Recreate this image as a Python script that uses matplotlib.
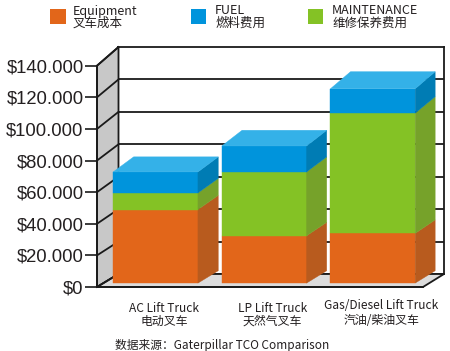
import numpy as np
import matplotlib
matplotlib.use("Agg")
import matplotlib.pyplot as plt
from matplotlib.patches import Polygon, Rectangle
from matplotlib.transforms import IdentityTransform

# ---------------- data ----------------
categories_en = ["AC Lift Truck", "LP Lift Truck", "Gas/Diesel Lift Truck"]
categories_zh = ["电动叉车", "天然气叉车", "汽油/柴油叉车"]
equipment = [46200, 29700, 31200]
maintenance = [10400, 40100, 75500]
fuel = [13200, 16300, 15300]
yticks = [0, 20000, 40000, 60000, 80000, 100000, 120000, 140000]
ytick_labels = ["$0", "$20.000", "$40.000", "$60.000", "$80.000",
                "$100.000", "$120.000", "$140.000"]
legend_en = ["Equipment", "FUEL", "MAINTENANCE"]
legend_zh = ["叉车成本", "燃料费用", "维修保养费用"]
source_text = "数据来源：Gaterpillar TCO Comparison"

# ---------------- style ----------------
C_OR, C_OR_S = "#E2661A", "#B85B1E"
C_GR, C_GR_S = "#84C225", "#76A22A"
C_BL, C_BL_S, C_BL_T = "#0094DC", "#007CB4", "#34B1E8"
legend_colors = [C_OR, C_BL, C_GR]
TXT = "#231F20"
CJK = ["Noto Sans CJK SC", "DejaVu Sans"]

W, H = 450, 351
fig = plt.figure(figsize=(W / 100, H / 100), dpi=100)


def fig_box(x0, y_top, x1, y_bottom):
    return [x0 / W, 1 - y_bottom / H, (x1 - x0) / W, (y_bottom - y_top) / H]


front = fig.add_axes(fig_box(97, 65.7, 423, 287), zorder=1)
back = fig.add_axes(fig_box(118.5, 47, 444, 274), zorder=0)
for a in (front, back):
    a.set_xlim(0, 3)
    a.set_ylim(0, 140000)

# back wall
back.set_facecolor("white")
for s in back.spines.values():
    s.set_color("#1a1a1a")
    s.set_linewidth(1.3)
back.set_xticks([])
back.set_yticks([])
for v in yticks[1:-1]:
    back.axhline(v, color="#1a1a1a", lw=1.3)

# front plane
front.patch.set_alpha(0)
front.spines["top"].set_visible(False)
front.spines["right"].set_visible(False)
for s in ("left", "bottom"):
    front.spines[s].set_color("#1a1a1a")
    front.spines[s].set_linewidth(1.3)
front.set_xticks([])
front.set_yticks(yticks, ytick_labels)
front.tick_params(axis="y", length=8.6, width=1.2, pad=1.0, labelsize=13.3,
                  color="#1a1a1a", labelcolor=TXT)
for lab in front.get_yticklabels():
    lab.set_family("Liberation Sans")


def P(x, v, z):
    f = front.transData.transform((x, v))
    b = back.transData.transform((x, v))
    return (1 - z) * f + z * b


def poly(pts, fc, ec="none", lw=0.0, z=2):
    front.add_patch(Polygon(np.array(pts), closed=True, facecolor=fc,
                            edgecolor=ec, linewidth=lw, zorder=z,
                            transform=IdentityTransform(), clip_on=False))


# left wall
poly([P(0, 0, 0), P(0, 140000, 0), P(0, 140000, 1), P(0, 0, 1)],
     "#C8C8C8", "#1a1a1a", 1.3, 1)
for v in yticks:
    a, b = P(0, v, 0), P(0, v, 1)
    front.plot([a[0], b[0]], [a[1], b[1]], color="#1a1a1a", lw=1.3,
               transform=IdentityTransform(), clip_on=False, zorder=1.2)
# floor
poly([P(0, 0, 0), P(3, 0, 0), P(3, 0, 1), P(0, 0, 1)],
     "#DCDCDC", "#1a1a1a", 1.3, 1)

# bars
centers = np.arange(len(categories_en)) + 0.48
bw = 0.78
z0, z1 = 0.3, 1.25
label_dy = [0, 0, 3]
for i, c in enumerate(centers):
    x0, x1 = c - bw / 2, c + bw / 2
    segs = [(equipment[i], C_OR, C_OR_S), (maintenance[i], C_GR, C_GR_S),
            (fuel[i], C_BL, C_BL_S)]
    base = 0
    for val, fc, sc in segs:
        top = base + val
        poly([P(x0, base, z0), P(x1, base, z0), P(x1, top, z0), P(x0, top, z0)],
             fc, fc, 0.3, 3)
        poly([P(x1, base, z0), P(x1, base, z1), P(x1, top, z1), P(x1, top, z0)],
             sc, sc, 0.3, 3)
        base = top
    poly([P(x0, base, z0), P(x1, base, z0), P(x1, base, z1), P(x0, base, z1)],
         C_BL_T, C_BL_T, 0.3, 3)

    front.annotate(categories_en[i], xy=(c + 0.135, 0), xycoords="data",
                   xytext=(0, -(312 - label_dy[i] - 287) * 0.72),
                   textcoords="offset points",
                   ha="center", va="baseline", fontsize=8.6, family=CJK,
                   color=TXT, annotation_clip=False)
    front.annotate(categories_zh[i], xy=(c + 0.135, 0), xycoords="data",
                   xytext=(0, -(325 - label_dy[i] / 2 - 287) * 0.72),
                   textcoords="offset points",
                   ha="center", va="baseline", fontsize=8.6, family=CJK,
                   color=TXT, annotation_clip=False)

# legend
sq_x = [50, 190.5, 307.5]
tx_x = [73, 215, 332]
for k in range(3):
    fig.patches.append(Rectangle((sq_x[k] / W, 1 - 24.3 / H), 15.5 / W, 15 / H,
                                 transform=fig.transFigure, facecolor=legend_colors[k],
                                 edgecolor="none"))
    fig.text(tx_x[k] / W, 1 - 14.5 / H, legend_en[k], fontsize=9.0, family=CJK,
             color=TXT, va="baseline", ha="left")
    fig.text(tx_x[k] / W, 1 - 26.5 / H, legend_zh[k], fontsize=9.0, family=CJK,
             color=TXT, va="baseline", ha="left")

fig.text(115 / W, 1 - 349 / H, source_text, fontsize=8.5, family=CJK, color=TXT,
         va="baseline", ha="left")

fig.savefig("out.png", dpi=100)
